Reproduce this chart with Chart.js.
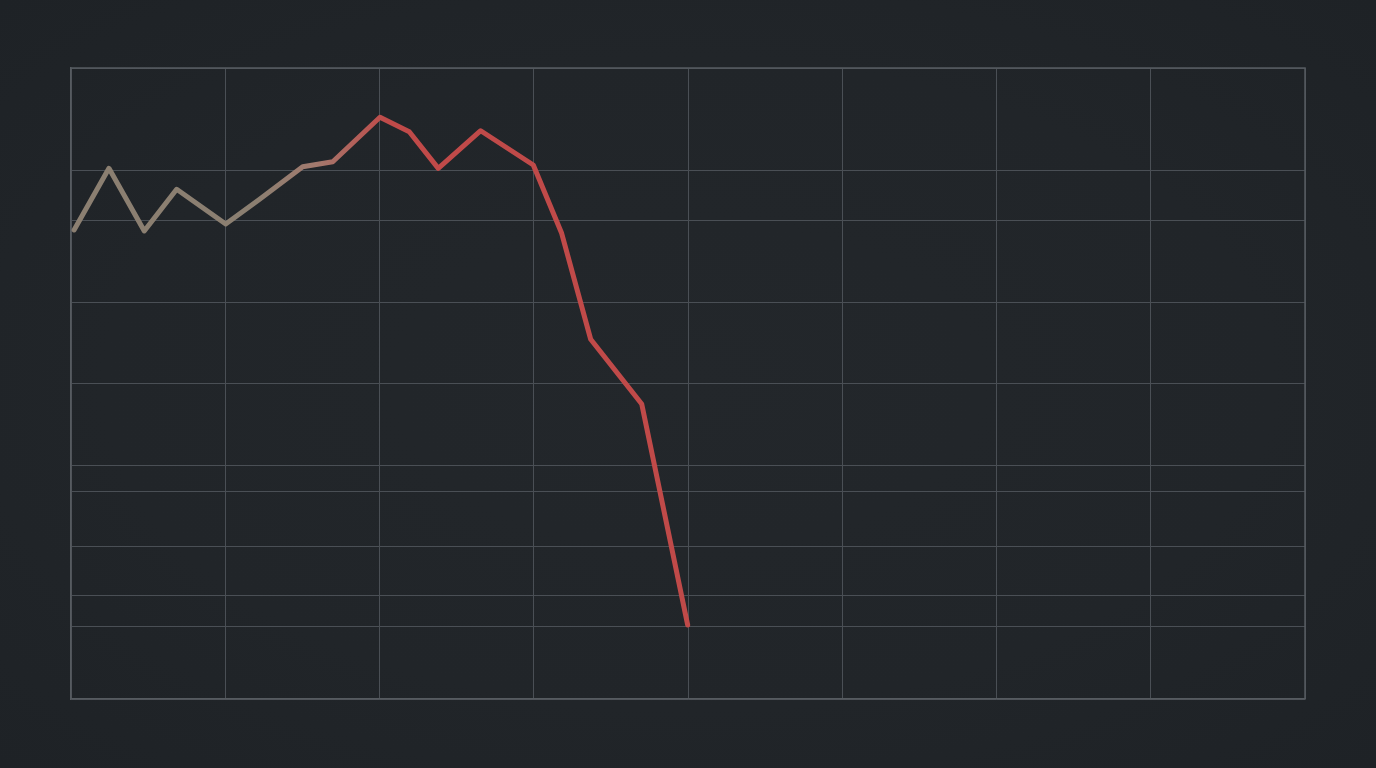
<!DOCTYPE html>
<html>
<head>
<meta charset="utf-8">
<script src="https://cdn.jsdelivr.net/npm/chart.js@4"></script>
<style>
  html, body { margin: 0; padding: 0; width: 1376px; height: 768px; overflow: hidden;
    background: radial-gradient(ellipse at center, #23272b 0%, #212529 60%, #1e2226 100%); }
  #wrap { position: absolute; left: 0; top: 0; width: 1376px; height: 768px; }
</style>
</head>
<body>
<div id="wrap"><canvas id="c"></canvas></div>
<script>
// Data
const xValues = [0.02, 0.246, 0.475, 0.685, 1.003, 1.225, 1.502, 1.697, 2.003, 2.193, 2.381, 2.656, 2.997, 3.181, 3.369, 3.70, 3.998];
const yValues = [74.33, 84.10, 74.17, 80.78, 75.28, 79.24, 84.36, 85.15, 92.19, 89.90, 84.10, 90.06, 84.63, 73.80, 57.01, 46.75, 11.73];
const xTicks = [0, 1, 2, 3, 4, 5, 6, 7, 8];
const yTicks = [0, 11.46, 16.37, 24.14, 32.85, 36.97, 50.03, 62.80, 75.80, 83.73, 100];

const points = xValues.map((x, i) => ({ x: x, y: yValues[i] }));

function lineGradient(ctx) {
  const chart = ctx.chart;
  const area = chart.chartArea;
  if (!area) return '#c04a48';
  const xs = chart.scales.x;
  const g = chart.ctx.createLinearGradient(xs.getPixelForValue(1.2), 0, xs.getPixelForValue(2.05), 0);
  g.addColorStop(0, '#8b7f71');
  g.addColorStop(0.45, '#a27a6e');
  g.addColorStop(1, '#c04a49');
  return g;
}

new Chart(document.getElementById('c'), {
  type: 'line',
  data: {
    datasets: [{
      data: points,
      borderColor: lineGradient,
      borderWidth: 5,
      pointRadius: 0,
      tension: 0,
      fill: false,
      borderJoinStyle: 'round',
      borderCapStyle: 'round'
    }]
  },
  options: {
    responsive: true,
    maintainAspectRatio: false,
    animation: false,
    layout: { padding: { left: 71, top: 68, right: 71, bottom: 69 } },
    plugins: { legend: { display: false }, tooltip: { enabled: false } },
    scales: {
      x: {
        type: 'linear', min: 0, max: 8,
        afterBuildTicks: (s) => { s.ticks = xTicks.map(v => ({ value: v })); },
        ticks: { display: false },
        grid: { color: '#4a4f55', lineWidth: 1, drawTicks: false },
        border: { display: true, color: '#565b60', width: 1.5 }
      },
      y: {
        type: 'linear', min: 0, max: 100,
        afterBuildTicks: (s) => { s.ticks = yTicks.map(v => ({ value: v })); },
        ticks: { display: false },
        grid: { color: '#4a4f55', lineWidth: 1, drawTicks: false },
        border: { display: true, color: '#565b60', width: 1.5 }
      }
    }
  },
  plugins: [{
    id: 'frame',
    afterDraw(chart) {
      const a = chart.chartArea, c = chart.ctx;
      c.save();
      c.strokeStyle = '#565b60';
      c.lineWidth = 1.5;
      c.beginPath();
      c.moveTo(a.left, a.top); c.lineTo(a.right, a.top); c.lineTo(a.right, a.bottom);
      c.stroke();
      c.restore();
    }
  }]
});
</script>
</body>
</html>
